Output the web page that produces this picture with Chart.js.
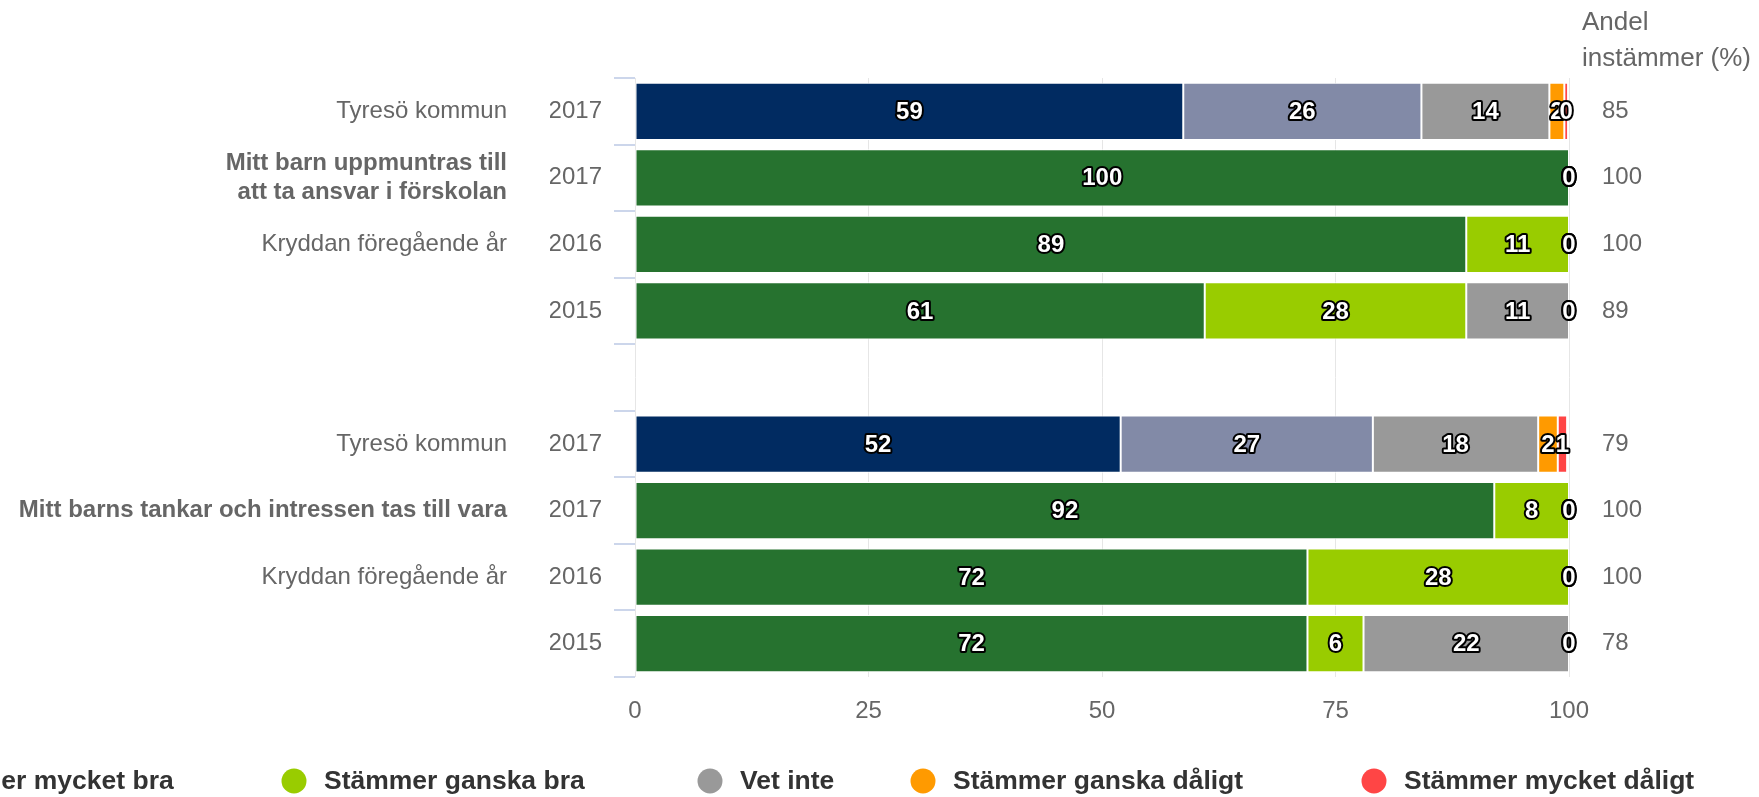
<!DOCTYPE html>
<html>
<head>
<meta charset="utf-8">
<script src="https://cdn.jsdelivr.net/npm/chart.js@4"></script>
<style>
  html, body { margin: 0; padding: 0; background: #fff; }
  #wrap { position: relative; width: 1759px; height: 797px; }
</style>
</head>
<body>
<div id="wrap"><canvas id="chart"></canvas></div>
<script>
// rows of the chart, top to bottom (row 4 is the empty spacer)
const names = [
    "Tyresö kommun",
    ["Mitt barn uppmuntras till", "att ta ansvar i förskolan"],
    "Kryddan föregående år",
    "",
    "",
    "Tyresö kommun",
    "Mitt barns tankar och intressen tas till vara",
    "Kryddan föregående år",
    ""
];
const years = ["2017", "2017", "2016", "2015", "", "2017", "2017", "2016", "2015"];
const andel = ["85", "100", "100", "89", "", "79", "100", "100", "78"];

const seriesNames = ["Stämmer mycket bra", "Stämmer ganska bra", "Vet inte", "Stämmer ganska dåligt", "Stämmer mycket dåligt"];

const mycketBra    = [58.7, 100, 89, 61, null, 52, 92, 72, 72];
const ganskaBra    = [25.5, 0, 11, 28, null, 27, 8, 28, 6];
const vetInte      = [13.7, 0, 0, 11, null, 17.7, 0, 0, 22];
const ganskaDaligt = [1.6, 0, 0, 0, null, 2.1, 0, 0, 0];
const mycketDaligt = [0.4, 0, 0, 0, null, 1.0, 0, 0, 0];

const xTicks = [0, 25, 50, 75, 100];

// colours: municipality rows use the blue scheme, the rest the green one
const kommunRows = [0, 5];
const kommunColors = ["#012b61", "#828aa7", "#999999", "#ff9a00", "#ff4545"];
const ownColors = ["#26722f", "#99cc00", "#999999", "#ff9a00", "#ff4545"];

// x positions of the legend circles (first one runs off the left edge)
const legendX = [-117, 294, 710, 923, 1374];

const font = "'Liberation Sans', Arial, sans-serif";
const grey = "#666666";

const valueLabels = {
    id: "valueLabels",
    afterDatasetsDraw(chart) {
        const ctx = chart.ctx;
        ctx.save();
        ctx.font = "bold 24px " + font;
        ctx.textAlign = "center";
        ctx.textBaseline = "middle";
        ctx.lineJoin = "round";
        ctx.lineWidth = 4;
        ctx.strokeStyle = "#000";
        ctx.fillStyle = "#fff";
        chart.data.datasets.forEach((ds, di) => {
            chart.getDatasetMeta(di).data.forEach((bar, i) => {
                const v = ds.data[i];
                if (v === null || v === undefined) return;
                const p = bar.getCenterPoint();
                const txt = String(Math.round(v));
                ctx.strokeText(txt, p.x, p.y + 1);
                ctx.fillText(txt, p.x, p.y + 1);
            });
        });
        ctx.restore();
    }
};

const extras = {
    id: "extras",
    afterDraw(chart) {
        const ctx = chart.ctx;
        ctx.save();
        // header above the right-hand column
        ctx.font = "26px " + font;
        ctx.fillStyle = grey;
        ctx.textAlign = "left";
        ctx.textBaseline = "middle";
        ctx.fillText("Andel", 1582, 23);
        ctx.fillText("instämmer (%)", 1582, 59);

        // legend
        ctx.font = "bold 26.5px " + font;
        seriesNames.forEach((name, i) => {
            const cx = legendX[i];
            ctx.fillStyle = ownColors[i];
            ctx.beginPath();
            ctx.arc(cx, 781, 12.5, 0, Math.PI * 2);
            ctx.fill();
            ctx.fillStyle = "#333333";
            ctx.fillText(name, cx + 30, 782);
        });
        ctx.restore();
    }
};

const datasets = [mycketBra, ganskaBra, vetInte, ganskaDaligt, mycketDaligt].map((values, i) => ({
    label: seriesNames[i],
    data: values,
    backgroundColor: (c) => (kommunRows.includes(c.dataIndex) ? kommunColors[i] : ownColors[i]),
    borderColor: "#ffffff",
    borderWidth: 1,
    borderSkipped: false,
    barPercentage: 0.86,
    categoryPercentage: 1.0,
    yAxisID: "y"
}));

new Chart(document.getElementById("chart"), {
    type: "bar",
    data: { labels: years, datasets: datasets },
    plugins: [valueLabels, extras],
    options: {
        indexAxis: "y",
        responsive: true,
        maintainAspectRatio: false,
        animation: false,
        layout: { padding: { top: 78, bottom: 70, left: 0, right: 0 } },
        plugins: {
            legend: { display: false },
            tooltip: { enabled: false }
        },
        scales: {
            x: {
                type: "linear",
                stacked: true,
                min: 0,
                max: 100,
                afterBuildTicks: (scale) => { scale.ticks = xTicks.map((v) => ({ value: v })); },
                grid: { color: "#e6e6e6", lineWidth: 1, drawTicks: false, tickLength: 0 },
                border: { display: false },
                ticks: { color: grey, font: { family: font, size: 24 }, padding: 20 },
                afterFit: (scale) => { scale.height = 50; }
            },
            y: {
                type: "category",
                position: "left",
                stacked: true,
                offset: true,
                weight: 0,
                grid: { offset: true, drawOnChartArea: false, color: "#ccd6eb", lineWidth: 2, tickLength: 21 },
                border: { display: false },
                ticks: { autoSkip: false, color: grey, font: { family: font, size: 24 }, padding: 12 },
                afterFit: (scale) => { scale.width = 85; }
            },
            yNames: {
                type: "category",
                position: "left",
                labels: names,
                offset: true,
                weight: 1,
                grid: { display: false, drawTicks: false, tickLength: 0 },
                border: { display: false },
                ticks: {
                    autoSkip: false,
                    color: grey,
                    padding: 43,
                    font: (c) => ({ family: font, size: 24, weight: (c.index === 1 || c.index === 6) ? "bold" : "normal" })
                },
                afterFit: (scale) => { scale.width = 550; }
            },
            yAndel: {
                type: "category",
                position: "right",
                labels: andel,
                offset: true,
                grid: { display: false, drawTicks: false, tickLength: 0 },
                border: { display: false },
                ticks: { autoSkip: false, color: grey, font: { family: font, size: 24 }, padding: 33 },
                afterFit: (scale) => { scale.width = 190; }
            }
        }
    }
});
</script>
</body>
</html>
